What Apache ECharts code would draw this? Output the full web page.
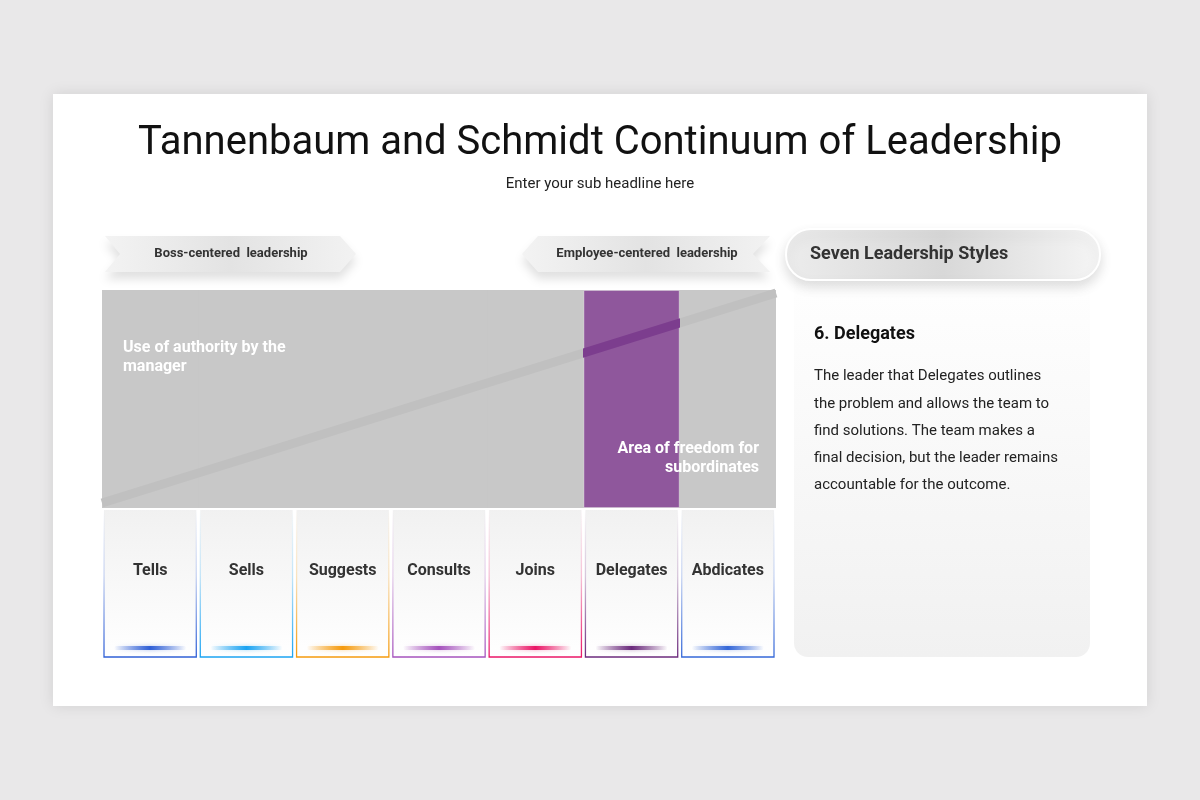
<!DOCTYPE html>
<html>
<head>
<meta charset="utf-8">
<script src="https://cdn.jsdelivr.net/npm/echarts@6/dist/echarts.min.js"></script>
<style>
  html, body { margin: 0; padding: 0; background: #e9e8e9; }
  #container { width: 1200px; height: 800px; }
</style>
</head>
<body>
<div id="container"></div>
<script>
var dom = document.getElementById("container");
var myChart = echarts.init(dom);
var option;

// the seven styles along the continuum
var styles = ["Tells", "Sells", "Suggests", "Consults", "Joins", "Delegates", "Abdicates"];
var styleColors = ["#2f5fd6", "#1aa3f2", "#f59a0c", "#a552bd", "#ea1566", "#6b2a7c", "#3467d8"];
var areaHeights = [100, 100, 100, 100, 100, 100, 100];
var selectedIndex = 5;
// diagonal split line: authority share at left edge and right edge
var splitX = [0, 7];
var splitY = [2.3, 98.6];

var descTitle = "6. Delegates";
var descLines = [
  "The leader that Delegates outlines",
  "the problem and allows the team to",
  "find solutions. The team makes a",
  "final decision, but the leader remains",
  "accountable for the outcome."
];

var FONT = "Roboto";

function hexA(hex, a) {
  var r = parseInt(hex.slice(1, 3), 16);
  var g = parseInt(hex.slice(3, 5), 16);
  var b = parseInt(hex.slice(5, 7), 16);
  return "rgba(" + r + "," + g + "," + b + "," + a + ")";
}

// gray area bars, selected one is purple
var areaData = areaHeights.map(function (v, i) {
  return {
    value: v,
    itemStyle: i == selectedIndex
      ? { color: "#8f579c", borderColor: "rgba(255,255,255,0.35)", borderWidth: 1 }
      : { color: "#c8c8c8" }
  };
});

var splitData = splitX.map(function (x, i) {
  return [x, splitY[i]];
});

var boxData = styles.map(function (s, i) {
  return [i, 1];
});

function renderBox(params, api) {
  var i = api.value(0);
  var top = api.coord([i, 1]);
  var bottom = api.coord([i, 0]);
  var w = api.size([1, 0])[0];
  var x = top[0] - w / 2 + 2;
  var bw = w - 4;
  var y = top[1] + 2;
  var h = bottom[1] - y;
  var c = styleColors[i];
  return {
    type: "group",
    children: [
      {
        type: "rect",
        shape: { x: x, y: y, width: bw, height: h },
        style: {
          fill: new echarts.graphic.LinearGradient(0, 0, 0, 1, [
            { offset: 0, color: "#f1f1f1" },
            { offset: 1, color: "#ffffff" }
          ]),
          stroke: new echarts.graphic.LinearGradient(0, 0, 0, 1, [
            { offset: 0, color: hexA(c, 0.0) },
            { offset: 0.45, color: hexA(c, 0.25) },
            { offset: 1, color: hexA(c, 1) }
          ]),
          lineWidth: 1.3
        }
      },
      {
        type: "rect",
        shape: { x: x + 10, y: bottom[1] - 11, width: bw - 20, height: 4, r: 2 },
        style: {
          fill: new echarts.graphic.LinearGradient(0, 0, 1, 0, [
            { offset: 0, color: hexA(c, 0) },
            { offset: 0.5, color: hexA(c, 1) },
            { offset: 1, color: hexA(c, 0) }
          ]),
          shadowBlur: 4,
          shadowColor: hexA(c, 0.4)
        }
      },
      {
        type: "text",
        style: {
          x: top[0],
          y: top[1] + 63,
          text: styles[i],
          fill: "#333333",
          font: "bold 16px " + FONT,
          align: "center",
          verticalAlign: "middle"
        }
      }
    ]
  };
}

function banner(pts, textX, label) {
  return [
    {
      type: "polygon",
      shape: { points: pts },
      style: {
        fill: new echarts.graphic.LinearGradient(0, 0, 1, 0, [
          { offset: 0, color: "#f3f3f3" },
          { offset: 0.5, color: "#e3e3e3" },
          { offset: 1, color: "#f2f2f2" }
        ]),
        shadowBlur: 10,
        shadowOffsetY: 7,
        shadowColor: "rgba(0,0,0,0.12)"
      }
    },
    {
      type: "text",
      x: textX,
      y: 254,
      style: {
        text: label,
        font: "bold 13px " + FONT,
        fill: "#333333",
        align: "center",
        verticalAlign: "middle"
      }
    }
  ];
}

var graphics = [
  {
    type: "rect",
    shape: { x: 53, y: 94, width: 1094, height: 612 },
    style: { fill: "#ffffff", shadowBlur: 14, shadowColor: "rgba(0,0,0,0.10)" },
    z: -10
  },
  {
    type: "text",
    x: 600,
    y: 144,
    style: {
      text: "Tannenbaum and Schmidt Continuum of Leadership",
      font: "40px " + FONT,
      fill: "#111111",
      align: "center",
      verticalAlign: "middle"
    }
  },
  {
    type: "text",
    x: 600,
    y: 184,
    style: {
      text: "Enter your sub headline here",
      font: "15px " + FONT,
      fill: "#222222",
      align: "center",
      verticalAlign: "middle"
    }
  },
  // right panel card
  {
    type: "rect",
    shape: { x: 794, y: 266, width: 296, height: 391, r: 14 },
    style: {
      fill: new echarts.graphic.LinearGradient(0, 0, 0, 1, [
        { offset: 0, color: "#ffffff" },
        { offset: 1, color: "#f1f1f1" }
      ])
    }
  },
  {
    type: "rect",
    shape: { x: 786, y: 229, width: 314, height: 51, r: 25 },
    style: {
      fill: new echarts.graphic.LinearGradient(0, 0, 1, 0, [
        { offset: 0, color: "#ececec" },
        { offset: 0.5, color: "#d8d8d8" },
        { offset: 1, color: "#f5f5f5" }
      ]),
      stroke: "#ffffff",
      lineWidth: 2,
      shadowBlur: 12,
      shadowOffsetY: 6,
      shadowColor: "rgba(0,0,0,0.13)"
    }
  },
  {
    type: "text",
    x: 810,
    y: 254,
    style: {
      text: "Seven Leadership Styles",
      font: "bold 18px " + FONT,
      fill: "#333333",
      verticalAlign: "middle"
    }
  },
  {
    type: "text",
    x: 814,
    y: 334,
    style: {
      text: descTitle,
      font: "bold 18px " + FONT,
      fill: "#111111",
      verticalAlign: "middle"
    }
  },
  {
    type: "text",
    x: 814,
    y: 363,
    style: {
      text: descLines.join("\n"),
      font: "15px " + FONT,
      lineHeight: 27.2,
      fill: "#222222",
      verticalAlign: "top"
    }
  },
  // labels inside the gray area
  {
    type: "text",
    x: 123,
    y: 338,
    z: 20,
    style: {
      text: "Use of authority by the\nmanager",
      font: "bold 16px " + FONT,
      lineHeight: 19,
      fill: "#ffffff",
      verticalAlign: "top"
    }
  },
  {
    type: "text",
    x: 759,
    y: 439,
    z: 20,
    style: {
      text: "Area of freedom for\nsubordinates",
      font: "bold 16px " + FONT,
      lineHeight: 19,
      fill: "#ffffff",
      align: "right",
      verticalAlign: "top"
    }
  }
];

graphics = graphics.concat(
  banner([[105, 236], [340, 236], [356, 254], [340, 272], [105, 272], [120, 254]], 231, "Boss-centered  leadership"),
  banner([[538, 236], [770, 236], [753, 254], [770, 272], [538, 272], [522, 254]], 647, "Employee-centered  leadership")
);

option = {
  animation: false,
  backgroundColor: "#e9e8e9",
  graphic: { elements: graphics },
  grid: [
    { left: 102, top: 290, width: 674, height: 218, show: true, backgroundColor: "#c8c8c8", borderWidth: 0 },
    { left: 102, top: 508, width: 674, height: 149 }
  ],
  xAxis: [
    { type: "category", gridIndex: 0, data: styles, show: false },
    { type: "value", gridIndex: 0, min: 0, max: 7, show: false },
    { type: "category", gridIndex: 1, data: styles, show: false }
  ],
  yAxis: [
    { type: "value", gridIndex: 0, min: 0, max: 100, show: false },
    { type: "value", gridIndex: 1, min: 0, max: 1, show: false }
  ],
  visualMap: {
    type: "piecewise",
    show: false,
    seriesIndex: 1,
    dimension: 0,
    pieces: [
      { gte: selectedIndex, lte: selectedIndex + 1, color: "#7c3d8e" }
    ],
    outOfRange: { color: "#c0c0c0" }
  },
  series: [
    {
      type: "bar",
      xAxisIndex: 0,
      yAxisIndex: 0,
      barWidth: "100%",
      data: areaData,
      silent: true
    },
    {
      type: "line",
      xAxisIndex: 1,
      yAxisIndex: 0,
      data: splitData,
      showSymbol: false,
      clip: true,
      lineStyle: { width: 9, cap: "butt" },
      silent: true
    },
    {
      type: "custom",
      xAxisIndex: 2,
      yAxisIndex: 1,
      data: boxData,
      renderItem: renderBox,
      silent: true
    }
  ]
};

myChart.setOption(option);
</script>
</body>
</html>
